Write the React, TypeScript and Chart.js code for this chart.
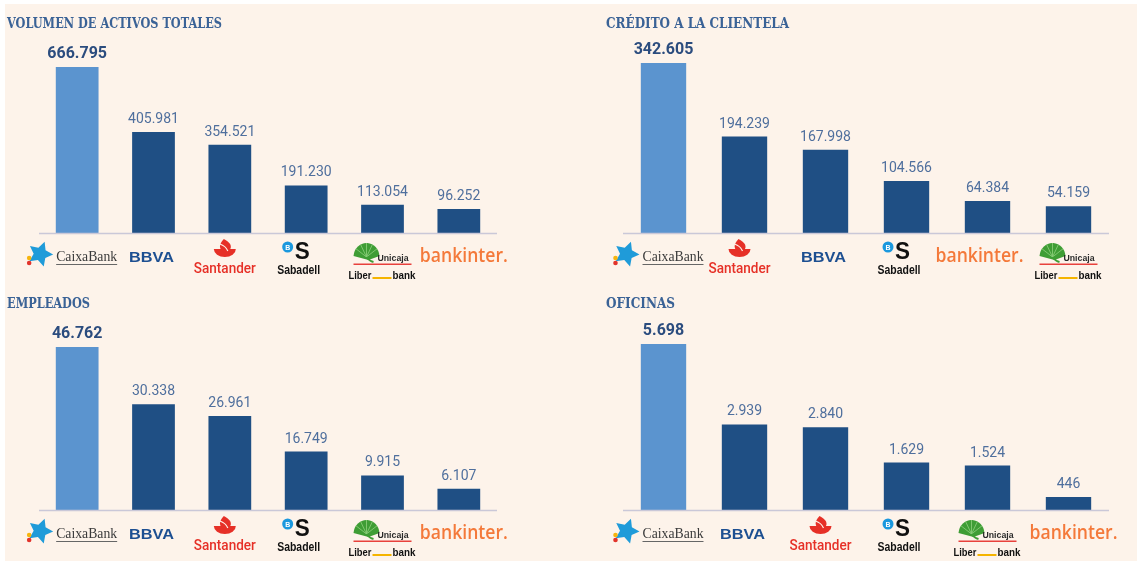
import React, { useEffect, useRef } from "react";
import { Chart, registerables } from "chart.js";

Chart.register(...registerables);

// ---------- DATA ----------
const CATEGORIES_ACTIVOS = ["CaixaBank", "BBVA", "Santander", "Sabadell", "Unicaja", "Bankinter"];
const VALUES_ACTIVOS = [666795, 405981, 354521, 191230, 113054, 96252];

const CATEGORIES_CREDITO = ["CaixaBank", "Santander", "BBVA", "Sabadell", "Bankinter", "Unicaja"];
const VALUES_CREDITO = [342605, 194239, 167998, 104566, 64384, 54159];

const CATEGORIES_EMPLEADOS = ["CaixaBank", "BBVA", "Santander", "Sabadell", "Unicaja", "Bankinter"];
const VALUES_EMPLEADOS = [46762, 30338, 26961, 16749, 9915, 6107];

const CATEGORIES_OFICINAS = ["CaixaBank", "BBVA", "Santander", "Sabadell", "Unicaja", "Bankinter"];
const VALUES_OFICINAS = [5698, 2939, 2840, 1629, 1524, 446];

const TITLE_ACTIVOS = "VOLUMEN DE ACTIVOS TOTALES";
const TITLE_CREDITO = "CRÉDITO A LA CLIENTELA";
const TITLE_EMPLEADOS = "EMPLEADOS";
const TITLE_OFICINAS = "OFICINAS";

// ---------- STYLE ----------
const CREAM = "#fdf3ea";
const LIGHT_BAR = "#5b94cf";
const DARK_BAR = "#1f4f84";
const TITLE_COLOR = "#3a6296";

const fmt = (v: number) => String(v).replace(/\B(?=(\d{3})+(?!\d))/g, ".");

function fitText(
  ctx: CanvasRenderingContext2D,
  text: string,
  x: number,
  y: number,
  font: string,
  color: string,
  width: number,
  align: "center" | "left" = "center"
) {
  ctx.save();
  ctx.font = font;
  ctx.fillStyle = color;
  ctx.textBaseline = "alphabetic";
  ctx.textAlign = "left";
  const w = ctx.measureText(text).width;
  const s = width / w;
  const left = align === "center" ? x - width / 2 : x;
  ctx.translate(left, y);
  ctx.scale(s, 1);
  ctx.fillText(text, 0, 0);
  ctx.restore();
}

function drawStar(ctx: CanvasRenderingContext2D, x: number, y: number, r: number, color: string) {
  ctx.save();
  ctx.fillStyle = color;
  ctx.beginPath();
  for (let i = 0; i < 10; i++) {
    const ang = -Math.PI / 2 + 0.35 + (i * Math.PI) / 5;
    const rr = i % 2 === 0 ? r : r * 0.5;
    const px = x + rr * Math.cos(ang);
    const py = y + rr * Math.sin(ang);
    if (i === 0) ctx.moveTo(px, py);
    else ctx.lineTo(px, py);
  }
  ctx.closePath();
  ctx.fill();
  ctx.restore();
}

function drawLogo(ctx: CanvasRenderingContext2D, name: string, cx: number, base: number, isLast: boolean) {
  ctx.save();
  if (name === "CaixaBank") {
    const c = cx - 5;
    drawStar(ctx, c - 32, base + 21, 13, "#1f9bd9");
    ctx.fillStyle = "#f6b40e";
    ctx.beginPath();
    ctx.arc(c - 43, base + 25, 2.3, 0, Math.PI * 2);
    ctx.fill();
    ctx.fillStyle = "#e2332b";
    ctx.beginPath();
    ctx.arc(c - 43, base + 30, 2.3, 0, Math.PI * 2);
    ctx.fill();
    fitText(ctx, "CaixaBank", c - 16, base + 28, '15px "Liberation Serif"', "#3a3a3a", 61, "left");
    ctx.fillStyle = "#666";
    ctx.fillRect(c - 16, base + 31, 61, 1);
  } else if (name === "BBVA") {
    fitText(ctx, "BBVA", cx - 2, base + 29, 'bold 15px "Liberation Sans"', "#1d4f91", 45);
  } else if (name === "Santander") {
    const c = cx - 5;
    const red = "#e63027";
    ctx.fillStyle = red;
    ctx.beginPath();
    ctx.ellipse(c, base + 16, 11, 8, 0, 0, Math.PI);
    ctx.closePath();
    ctx.fill();
    ctx.beginPath();
    ctx.moveTo(c - 1, base + 6);
    ctx.bezierCurveTo(c + 9, base + 11, c + 7, base + 17, c + 1, base + 20);
    ctx.bezierCurveTo(c - 7, base + 17, c - 6, base + 11, c - 1, base + 6);
    ctx.fill();
    ctx.strokeStyle = CREAM;
    ctx.lineWidth = 1.2;
    ctx.beginPath();
    ctx.moveTo(c - 5, base + 11);
    ctx.quadraticCurveTo(c + 1, base + 13, c + 3, base + 18);
    ctx.stroke();
    fitText(ctx, "Santander", c, base + 40, '500 15px Roboto', red, 62);
  } else if (name === "Sabadell") {
    ctx.fillStyle = "#1a98de";
    ctx.beginPath();
    ctx.arc(cx - 18.5, base + 14, 5.5, 0, Math.PI * 2);
    ctx.fill();
    fitText(ctx, "B", cx - 18.5, base + 17, 'bold 8px "Liberation Sans"', "#ffffff", 5);
    fitText(ctx, "S", cx - 4, base + 26, 'bold 23px "Liberation Sans"', "#111111", 15);
    fitText(ctx, "Sabadell", cx - 7.5, base + 41, 'bold 12px "Liberation Sans"', "#111111", 43);
  } else if (name === "Unicaja") {
    const fx = cx - 16;
    const fy = base + 24;
    ctx.fillStyle = "#3f9d35";
    ctx.beginPath();
    ctx.moveTo(fx + 2, fy + 3);
    ctx.ellipse(fx, fy, 13, 14, 0, Math.PI * 1.02, Math.PI * 1.98);
    ctx.closePath();
    ctx.fill();
    ctx.strokeStyle = "#8fd07d";
    ctx.lineWidth = 0.8;
    for (let k = 1; k < 6; k++) {
      const a = Math.PI * (1.05 + (k * 0.9) / 6);
      ctx.beginPath();
      ctx.moveTo(fx, fy);
      ctx.lineTo(fx + 13 * Math.cos(a), fy + 14 * Math.sin(a));
      ctx.stroke();
    }
    ctx.strokeStyle = "#3f9d35";
    ctx.lineWidth = 2;
    ctx.beginPath();
    ctx.moveTo(fx, fy);
    ctx.quadraticCurveTo(fx + 3, fy + 4, fx + 7, fy + 5);
    ctx.stroke();
    fitText(ctx, "Unicaja", cx - 5, base + 28, 'bold 9px "Liberation Sans"', "#2a2a2a", 31, "left");
    ctx.fillStyle = "#e8413c";
    ctx.fillRect(cx - 29, base + 30.5, 58, 1.5);
    fitText(ctx, "Liber", cx - 34, base + 46, 'bold 11px "Liberation Sans"', "#111111", 23, "left");
    ctx.fillStyle = "#f5b400";
    ctx.fillRect(cx - 10, base + 44, 19, 2);
    fitText(ctx, "bank", cx + 10, base + 46, 'bold 11px "Liberation Sans"', "#111111", 23, "left");
  } else if (name === "Bankinter") {
    const c = isLast ? cx + 5 : cx - 8;
    fitText(ctx, "bankinter.", c, base + 29, '600 19px "Open Sans"', "#f4793a", 88);
  }
  ctx.restore();
}

type PanelProps = {
  title: string;
  categories: string[];
  values: number[];
  left: number;
  top: number;
  width: number;
  height: number;
  pad: { left: number; right: number; top: number; bottom: number };
  titleX: number;
  titleY: number;
  titleW: number;
};

function Panel(p: PanelProps) {
  const ref = useRef<HTMLCanvasElement | null>(null);
  useEffect(() => {
    if (!ref.current) return;
    const decor = {
      id: "decor",
      afterDatasetsDraw(chart: any) {
        const ctx: CanvasRenderingContext2D = chart.ctx;
        const xs = chart.scales.x;
        const ys = chart.scales.y;
        const area = chart.chartArea;
        fitText(ctx, p.title, p.titleX, p.titleY, 'bold 14px "DejaVu Serif"', TITLE_COLOR, p.titleW, "left");
        ctx.save();
        ctx.strokeStyle = "#cac8d8";
        ctx.lineWidth = 1.5;
        ctx.beginPath();
        ctx.moveTo(area.left, area.bottom + 0.5);
        ctx.lineTo(area.right, area.bottom + 0.5);
        ctx.stroke();
        ctx.restore();
        p.values.forEach((v, i) => {
          const x = xs.getPixelForValue(i);
          const y = ys.getPixelForValue(v);
          ctx.save();
          ctx.textAlign = "center";
          ctx.textBaseline = "alphabetic";
          if (i === 0) {
            ctx.font = "bold 16px Roboto";
            ctx.fillStyle = "#2b4c7e";
          } else {
            ctx.font = "14px Roboto";
            ctx.fillStyle = "#4f6f9d";
          }
          ctx.fillText(fmt(v), x, y - 9);
          ctx.restore();
          drawLogo(ctx, p.categories[i], x, area.bottom, i === p.values.length - 1);
        });
      },
    };
    const chart = new Chart(ref.current, {
      type: "bar",
      data: {
        labels: p.categories,
        datasets: [
          {
            data: p.values,
            backgroundColor: p.values.map((_, i) => (i === 0 ? LIGHT_BAR : DARK_BAR)),
            borderWidth: 0,
            categoryPercentage: 1,
            barPercentage: 0.56,
          },
        ],
      },
      options: {
        animation: false,
        responsive: false,
        devicePixelRatio: 1,
        layout: { padding: p.pad },
        plugins: { legend: { display: false }, tooltip: { enabled: false }, title: { display: false } },
        scales: {
          x: { display: false },
          y: { display: false, min: 0, max: Math.max(...p.values) },
        },
      },
      plugins: [decor],
    } as any);
    return () => chart.destroy();
  }, []);
  return (
    <canvas
      ref={ref}
      width={p.width}
      height={p.height}
      style={{ position: "absolute", left: p.left, top: p.top, width: p.width, height: p.height }}
    />
  );
}

export default function App() {
  return (
    <div style={{ position: "fixed", left: 0, top: 0, width: 1137, height: 563, background: "#ffffff", overflow: "hidden" }}>
      <div style={{ position: "absolute", left: 5, top: 4, width: 1132, height: 557, background: CREAM }} />
      <Panel
        title={TITLE_ACTIVOS}
        categories={CATEGORIES_ACTIVOS}
        values={VALUES_ACTIVOS}
        left={0}
        top={0}
        width={568}
        height={285}
        pad={{ left: 39, right: 71, top: 67, bottom: 52 }}
        titleX={7}
        titleY={28}
        titleW={215}
      />
      <Panel
        title={TITLE_CREDITO}
        categories={CATEGORIES_CREDITO}
        values={VALUES_CREDITO}
        left={600}
        top={0}
        width={537}
        height={285}
        pad={{ left: 23, right: 28, top: 63, bottom: 52 }}
        titleX={6}
        titleY={28}
        titleW={183}
      />
      <Panel
        title={TITLE_EMPLEADOS}
        categories={CATEGORIES_EMPLEADOS}
        values={VALUES_EMPLEADOS}
        left={0}
        top={285}
        width={568}
        height={278}
        pad={{ left: 39, right: 71, top: 62, bottom: 53 }}
        titleX={7}
        titleY={23}
        titleW={83}
      />
      <Panel
        title={TITLE_OFICINAS}
        categories={CATEGORIES_OFICINAS}
        values={VALUES_OFICINAS}
        left={600}
        top={285}
        width={537}
        height={278}
        pad={{ left: 23, right: 28, top: 59, bottom: 53 }}
        titleX={6}
        titleY={23}
        titleW={69}
      />
    </div>
  );
}
